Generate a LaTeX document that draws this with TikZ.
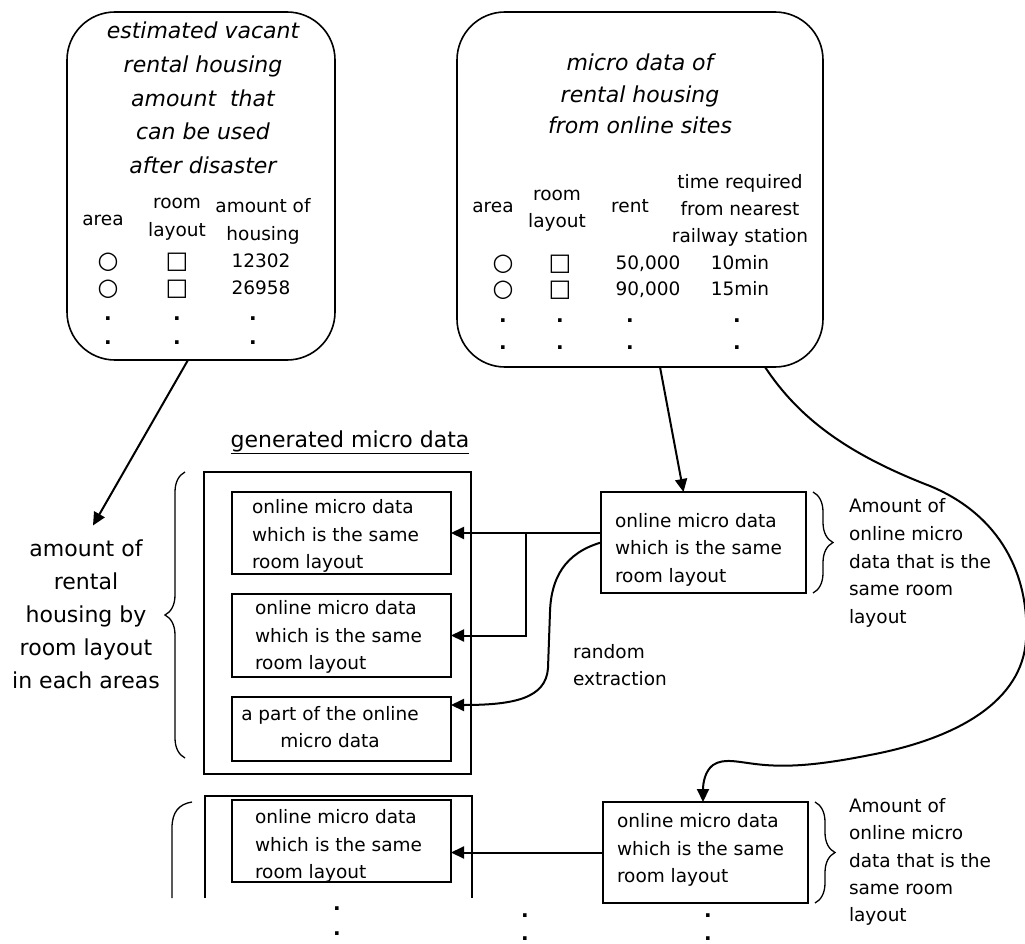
\documentclass[tikz,border=0pt]{standalone}
\usepackage{fontspec}
\setmainfont{DejaVu Sans}
\usetikzlibrary{arrows.meta,decorations.pathreplacing}

\begin{document}
\begin{tikzpicture}[x=1pt,y=-1pt,
  every node/.style={inner sep=0pt, outer sep=0pt},
  rbox/.style={draw, line width=1.6pt, rounded corners=48pt},
  box/.style={draw, line width=1.6pt},
  small/.style={font=\fontsize{18.5}{27.5}\selectfont},
  tight/.style={font=\fontsize{18.5}{27}\selectfont},
  big/.style={font=\fontsize{22}{33}\selectfont, align=center},
  title/.style={font=\fontsize{22}{#1}\selectfont\itshape, align=center},
  cell/.style={tight, align=center},
  one/.style={small, text height=0.75em, text depth=0.25em},
  glyph/.style={font=\fontsize{24}{24}\selectfont, text height=0.7em, text depth=0.1em},
  dot/.style={font=\fontsize{20}{20}\selectfont\bfseries, anchor=base},
  para/.style={small, align=left, anchor=west},
  arr/.style={line width=2pt, -{Triangle[length=13pt,width=12pt]}},
  curly/.style={line width=1.3pt, decorate, decoration={brace, amplitude=#1}},
]
\useasboundingbox (0,0) rectangle (1025,944);

% ---------- source tables ----------
\node[rbox, minimum width=268pt, minimum height=348pt] (tl) at (201,186) {};
\node[rbox, minimum width=366pt, minimum height=355pt] (tr) at (640,189.5) {};

\node[title=33.75] (tltitle) at (203,98)
  {estimated vacant\\rental housing\\amount~ that\\can be used\\after disaster};
\node[one]  (tlarea) at (103,223) {area};
\node[cell, font=\fontsize{18.5}{28}\selectfont] (tlroom) at (177,219) {room\\layout};
\node[cell, font=\fontsize{18.5}{28}\selectfont] (tlamt) at (263,221) {amount of\\housing};
\node[glyph] (tlc1) at (108,265) {○};
\node[glyph] (tlc2) at (108,292) {○};
\node[glyph] (tls1) at (177,265) {□};
\node[glyph] (tls2) at (177,292) {□};
\node[one] (tlv1) at (261,265) {12302};
\node[one] (tlv2) at (261,292) {26958};
\node[dot] (tld1) at (108,320) {.};
\node[dot] (tld2) at (177,320) {.};
\node[dot] (tld3) at (253,320) {.};
\node[dot] (tld4) at (108,344) {.};
\node[dot] (tld5) at (177,344) {.};
\node[dot] (tld6) at (253,344) {.};

\node[title=31.5] (trtitle) at (640,94)
  {micro data of\\rental housing\\from online sites};
\node[one]  (trarea) at (493,210) {area};
\node[cell] (trroom) at (557,211) {room\\layout};
\node[one]  (trrent) at (630,210) {rent};
\node[cell] (trtime) at (740,210) {time required\\from nearest\\railway station};
\node[glyph] (trc1) at (503,267) {○};
\node[glyph] (trc2) at (503,293) {○};
\node[glyph] (trs1) at (560,267) {□};
\node[glyph] (trs2) at (560,293) {□};
\node[one] (trr1) at (648,267) {50,000};
\node[one] (trr2) at (648,293) {90,000};
\node[one] (trm1) at (740,267) {10min};
\node[one] (trm2) at (740,293) {15min};
\node[dot] (trd1) at (503,322) {.};
\node[dot] (trd2) at (560,322) {.};
\node[dot] (trd3) at (630,322) {.};
\node[dot] (trd4) at (737,322) {.};
\node[dot] (trd5) at (503,349) {.};
\node[dot] (trd6) at (560,349) {.};
\node[dot] (trd7) at (630,349) {.};
\node[dot] (trd8) at (737,349) {.};

% ---------- generated micro data ----------
\node[font=\fontsize{22}{26}\selectfont, anchor=base] (gen) at (350,447)
  {\underline{generated micro data}};
\node[box, minimum width=267pt, minimum height=302pt] (ob1) at (337.5,623) {};
\node[box, minimum width=219pt, minimum height=82pt] (ib1) at (341.5,533) {};
\node[box, minimum width=219pt, minimum height=83pt] (ib2) at (341.5,635.5) {};
\node[box, minimum width=219pt, minimum height=64pt] (ib3) at (341.5,729) {};
\node[para] (ib1t) at (252,536) {online micro data\\which is the same\\room layout};
\node[para] (ib2t) at (255,637) {online micro data\\which is the same\\room layout};
\node[small, align=center] (ib3t) at (330,727) {a part of the online\\micro data};

\draw[curly=20pt] (185,758) -- (185,472);
\node[big] (lbl) at (86,614)
  {amount of\\rental\\housing by\\room layout\\in each areas};

% second group, continued below the picture edge
\draw[line width=1.6pt] (205,898) -- (205,796) -- (472,796) -- (472,898);
\node[box, minimum width=219pt, minimum height=82pt] (ib4) at (341.5,841) {};
\node[para] (ib4t) at (255,846) {online micro data\\which is the same\\room layout};
\draw[line width=1.3pt] (192,802) .. controls (179,804) and (172,812) .. (172,828) -- (172,898);

% ---------- online micro data groups ----------
\node[box, minimum width=205pt, minimum height=101pt] (rb1) at (703.5,542.5) {};
\node[para] (rb1t) at (615,549.5) {online micro data\\which is the same\\room layout};
\draw[curly=20pt] (813,492) -- (813,593);
\node[para, font=\fontsize{18.5}{27.8}\selectfont] (amt1) at (849,563)
  {Amount of\\online micro\\data that is the\\same room\\layout};

\node[box, minimum width=205pt, minimum height=101pt] (rb2) at (705.5,852.5) {};
\node[para] (rb2t) at (617,850) {online micro data\\which is the same\\room layout};
\draw[curly=20pt] (815,802) -- (815,903);
\node[para, font=\fontsize{18.5}{27.3}\selectfont] (amt2) at (849,862)
  {Amount of\\online micro\\data that is the\\same room\\layout};

\node[para] (rnd) at (573,665) {random\\extraction};

\node[dot] (bd1) at (337,910) {.};
\node[dot] (bd2) at (337,935) {.};
\node[dot] (bd3) at (525,917) {.};
\node[dot] (bd4) at (525,940) {.};
\node[dot] (bd5) at (708,917) {.};
\node[dot] (bd6) at (708,940) {.};

% ---------- connectors ----------
\draw[arr] ([xshift=-13pt]tl.south) -- ([xshift=7pt,yshift=14pt]lbl.north);
\draw[arr] ([xshift=20pt]tr.south) -- ([xshift=-20pt]rb1.north);

\draw[arr] (rb1.west |- ib1.east) -- (ib1.east);
\coordinate (fork) at (526,533);
\draw[arr] (fork) |- (ib2.east);
\draw[arr] (rb1.west) .. controls (565,553) and (551,578) .. (550,612)
  -- (548,668) .. controls (546,698) and (515,705) .. ([yshift=24pt]ib3.east);

\draw[arr] ([xshift=125pt]tr.south)
  .. controls (800,420) and (850,455) .. (930,486)
  .. controls (1000,515) and (1030,575) .. (1026,640)
  .. controls (1022,700) and (960,738) .. (870,755)
  .. controls (820,765) and (790,767) .. (765,765)
  .. controls (740,763) and (725,757) .. (713,765)
  .. controls (705,771) and (703,783) .. ([xshift=-2.5pt]rb2.north);

\draw[arr] (rb2.west) -- (rb2.west -| ib4.east);
\end{tikzpicture}
\end{document}
